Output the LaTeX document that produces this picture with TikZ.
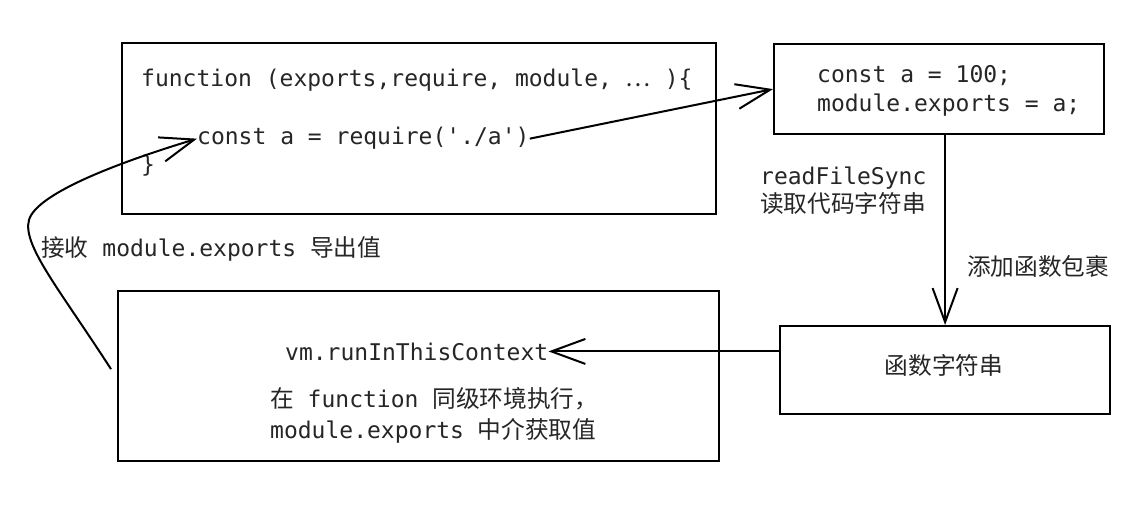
\documentclass[tikz,border=0pt]{standalone}
\usepackage{fontspec}
\setmonofont{DejaVu Sans Mono}
\newfontfamily\cjk{Noto Sans CJK SC}[Scale=1.03]
\usetikzlibrary{arrows.meta,calc}
\begin{document}
\begin{tikzpicture}[x=1pt,y=-1pt,
  box/.style={draw, line width=2.2pt, rectangle, inner sep=0, anchor=north west},
  txt/.style={inner sep=0, anchor=base west, font=\fontsize{23}{28}\selectfont\ttfamily, text=black!85},
  arr/.style={line width=2pt, -{Straight Barb[length=34pt,width=25pt]}}]
\useasboundingbox (0,0) rectangle (1146,516);
\fill[white] (0,0) rectangle (1146,516);
% boxes
\node[box, minimum width=594pt, minimum height=171pt] (b1) at (121,42) {};
\node[box, minimum width=330pt, minimum height=90pt] (b2) at (773,43) {};
\node[box, minimum width=601pt, minimum height=170pt] (b3) at (117,290) {};
\node[box, minimum width=330pt, minimum height=88pt] (b4) at (779,325) {};
% texts
\node[txt] (f1) at (141,87) {function (exports,require, module, {\cjk …} )\{};
\node[txt] (req) at (197,145) {const a = require(\textquotesingle./a\textquotesingle)};
\node[txt] (brace) at (141,172) {\}};
\node[txt] (c1) at (817,83) {const a = 100;};
\node[txt] (c2) at (817,112) {module.exports = a;};
\node[txt] (rf1) at (760,185) {readFileSync};
\node[txt] (rf2) at (760,212) {\cjk 读取代码字符串};
\node[txt] (wrap) at (967,275) {\cjk 添加函数包裹};
\node[txt, anchor=base] (fs) at (944,374) {\cjk 函数字符串};
\node[txt] (recv) at (41,256) {{\cjk 接收} module.exports {\cjk 导出值}};
\node[txt] (vm) at (285,360) {vm.runInThisContext};
\node[txt] (ex1) at (270,407) {{\cjk 在} function {\cjk 同级环境执行，}};
\node[txt] (ex2) at (270,438) {module.exports {\cjk 中介获取值}};
% connectors
\draw[arr] (req.east) -- (b2.west);
\draw[arr] (b2.south -| b4.north) -- (b4.north);
\draw[arr] (b4.west |- vm.east) -- (vm.east);
\draw[arr] ($(b3.west)+(-6,-7)$) .. controls (60,290) and (22,245) .. (29,220)
  .. controls (36,195) and (110,165) .. (req.west);
\end{tikzpicture}
\end{document}
